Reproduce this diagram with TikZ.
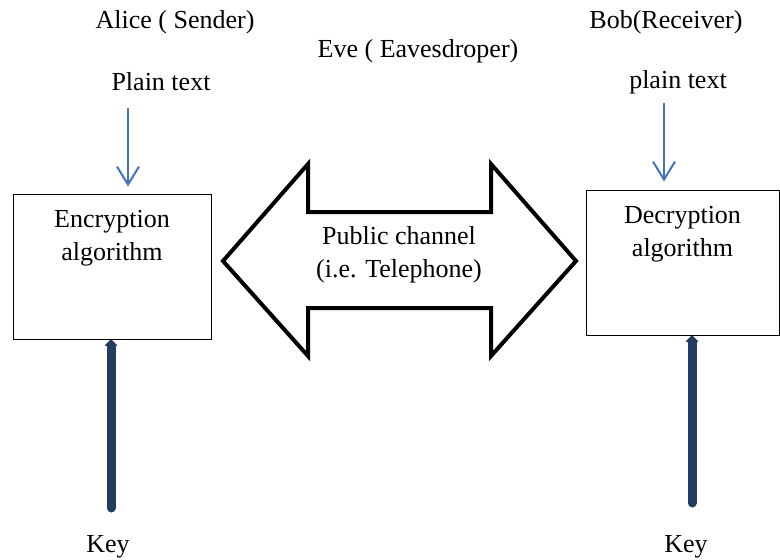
\documentclass[tikz,border=0pt]{standalone}
\usepackage{fontspec}
\setmainfont{Liberation Serif}
\usepackage{tikz}
\usetikzlibrary{arrows.meta, positioning, calc}
\definecolor{plainblue}{RGB}{68,114,196}
\definecolor{keynavy}{RGB}{35,60,98}
\tikzset{
  lbl/.style={font=\fontsize{26}{32.5}\selectfont, inner sep=0pt, align=center},
  algbox/.style={rectangle, draw=black, line width=1pt, inner sep=0pt},
  plainarrow/.style={-{Straight Barb[length=18pt, width=22pt]}, line width=2pt, color=plainblue},
  keyarrow/.style={-{Triangle[length=7pt, width=14pt, round]}, line width=9pt,
    line cap=round, color=keynavy},
  channel/.style={line width=4pt, line join=miter, draw=black, fill=white}
}
\begin{document}
\begin{tikzpicture}[x=1pt, y=-1pt]
  \useasboundingbox (0,0) rectangle (780,560);
  % the two parties and the eavesdropper
  \node[lbl] (alice) at (175,22) {Alice ( Sender)};
  \node[lbl] (bob) at (666,22) {Bob(Receiver)};
  \node[lbl] (eve) at (418,51) {Eve ( Eavesdroper)};
  \node[lbl] (ptL) at (161,82) {Plain text};
  \node[lbl] (ptR) at (678,82) {plain text};
  % algorithm boxes
  \node[algbox, minimum width=198pt, minimum height=145pt] (enc) at (112,266.5) {};
  \node[algbox, minimum width=193pt, minimum height=145pt] (dec) at (682.5,262.5) {};
  \node[lbl, anchor=north] (enctxt) at ([yshift=-17pt]enc.north) {Encryption\\algorithm};
  \node[lbl, anchor=north] (dectxt) at ([yshift=-17pt]dec.north) {Decryption\\algorithm};
  % public channel (double arrow)
  \draw[channel] (223,261) -- (308,164) -- (308,212) -- (491,212) -- (491,164)
    -- (576,261) -- (491,356) -- (491,308) -- (308,308) -- (308,356) -- cycle;
  \node[lbl] (chan) at (399,254.5) {Public channel\\(i.e. Telephone)};
  % plain text inputs
  \coordinate (inL) at (128,108);
  \coordinate (inR) at (664,103);
  \draw[plainarrow, shorten >=7pt] (inL) -- (inL |- enc.north);
  \draw[plainarrow, shorten >=8pt] (inR) -- (inR |- dec.north);
  % keys
  \node[lbl] (keyL) at (108,547) {Key};
  \node[lbl] (keyR) at (686,547) {Key};
  \coordinate (kL) at (111,508);
  \coordinate (kR) at (692,503);
  \draw[keyarrow] (kL) -- (kL |- enc.south);
  \draw[keyarrow] (kR) -- (kR |- dec.south);
\end{tikzpicture}
\end{document}
